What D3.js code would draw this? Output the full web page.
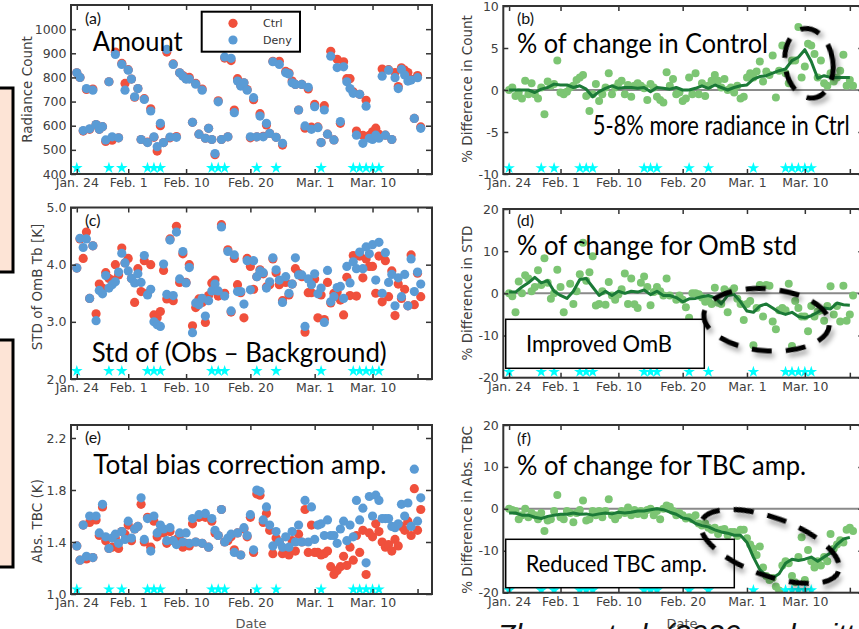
<!DOCTYPE html>
<html>
<head>
<meta charset="utf-8">
<script src="https://cdn.jsdelivr.net/npm/d3@7"></script>
<style>
  body { margin: 0; background: #fff; }
  svg { display: block; }
</style>
</head>
<body>
<svg id="fig" width="859" height="629"></svg>
<script>
// ---- data (day 0 = Jan. 24, two cycles per day) ----
const dateTicks = [0, 8, 17, 27, 37, 46, 53];
const dateLabels = ['Jan. 24', 'Feb. 1', 'Feb. 10', 'Feb. 20', 'Mar. 1', 'Mar. 10', ''];
const starDays = [0, 5, 7, 11, 12, 13, 21, 22, 23, 28, 31, 38, 43, 44, 45, 46, 47];

const countCtrl = [
  819, 800, 578, 750, 585, 752, 605, 585, 596, 535,
  782, 540, 905, 550, 858, 775, 832, 793, 718, 754,
  543, 712, 532, 670, 552, 495, 600, 530, 905, 550,
  856, 555, 819, 808, 795, 800, 614, 775, 565, 752,
  548, 589, 543, 480, 703, 543, 880, 554, 870, 665,
  795, 768, 778, 750, 550, 708, 554, 650, 556, 603,
  568, 867, 552, 867, 520, 825, 818, 785, 771, 665,
  771, 590, 752, 594, 688, 595, 530, 683, 565, 908,
  541, 875, 610, 865, 795, 795, 740, 578, 730, 560,
  705, 560, 575, 590, 565, 835, 561, 832, 543, 820,
  762, 840, 830, 820, 792, 630, 808, 595
];
const countDeny = [
  819, 800, 580, 754, 587, 747, 605, 585, 596, 541,
  782, 554, 895, 550, 854, 747, 830, 793, 720, 754,
  543, 709, 530, 661, 554, 513, 610, 530, 916, 553,
  854, 552, 819, 805, 793, 793, 614, 772, 565, 747,
  548, 589, 543, 485, 699, 543, 885, 554, 879, 654,
  785, 764, 778, 747, 554, 716, 554, 640, 554, 610,
  568, 865, 552, 854, 527, 819, 814, 778, 771, 665,
  771, 599, 759, 585, 679, 592, 530, 665, 565, 888,
  541, 841, 617, 844, 782, 754, 734, 561, 730, 527,
  681, 548, 543, 561, 548, 805, 561, 830, 543, 799,
  754, 833, 810, 785, 789, 630, 799, 589
];

const stdCtrl = [
  3.94, 4.45, 4.11, 4.57, 3.41, 4.33, 3.14, 3.66, 3.59, 3.86,
  3.76, 3.73, 4.00, 3.82, 4.29, 4.03, 4.11, 3.76, 3.34, 3.93,
  3.53, 4.07, 3.50, 4.00, 3.12, 3.07, 3.18, 3.90, 3.40, 4.45,
  3.37, 4.67, 3.69, 4.19, 3.69, 4.00, 2.93, 3.25, 3.40, 3.34,
  2.99, 3.46, 3.68, 3.73, 3.45, 4.70, 3.50, 4.26, 3.17, 4.11,
  3.65, 3.51, 3.07, 4.11, 3.97, 3.57, 3.79, 3.91, 3.84, 3.61,
  3.65, 4.10, 3.86, 3.65, 3.37, 3.69, 3.47, 3.66, 3.93, 3.85,
  3.79, 2.82, 3.51, 3.51, 3.75, 3.07, 3.47, 3.04, 3.69, 3.33,
  3.50, 3.52, 3.38, 3.12, 3.78, 3.46, 4.16, 3.45, 4.15, 3.77,
  4.10, 3.97, 3.97, 3.50, 4.15, 3.35, 4.07, 3.44, 3.89, 3.11,
  3.66, 3.41, 3.57, 3.28, 4.17, 3.30, 3.85, 3.44
];
const stdDeny = [
  3.94, 4.46, 4.30, 4.45, 3.41, 4.33, 3.02, 3.55, 3.49, 3.81,
  3.59, 3.65, 3.70, 3.87, 4.20, 4.03, 3.89, 3.76, 3.68, 3.84,
  3.69, 4.16, 3.47, 3.57, 3.00, 2.95, 2.92, 4.01, 3.48, 4.43,
  3.46, 4.57, 3.75, 4.23, 3.68, 3.95, 2.81, 3.33, 3.30, 3.41,
  3.10, 3.37, 3.54, 3.66, 3.54, 4.66, 3.45, 4.23, 3.19, 4.17,
  3.53, 3.53, 3.31, 4.07, 3.56, 4.07, 3.79, 3.89, 3.86, 3.59,
  3.70, 4.12, 3.91, 3.73, 3.34, 3.79, 3.50, 3.66, 4.12, 3.82,
  3.82, 2.92, 3.75, 3.65, 3.84, 3.49, 3.59, 2.99, 3.90, 3.35,
  3.44, 3.60, 3.62, 3.41, 3.97, 3.68, 4.05, 3.93, 4.22, 3.93,
  4.31, 4.19, 4.35, 3.73, 4.39, 3.50, 4.21, 3.69, 3.83, 3.28,
  3.77, 3.44, 3.83, 3.28, 4.10, 3.53, 3.87, 3.66
];

const tbcCtrl = [
  1.37, 1.26, 1.53, 1.27, 1.55, 1.28, 1.57, 1.45, 1.67, 1.41,
  1.35, 1.36, 1.43, 1.35, 1.48, 1.46, 1.53, 1.41, 1.50, 1.52,
  1.69, 1.40, 1.59, 1.36, 1.56, 1.44, 1.49, 1.47, 1.39, 1.48,
  1.41, 1.42, 1.45, 1.36, 1.39, 1.37, 1.54, 1.40, 1.59, 1.39,
  1.59, 1.36, 1.56, 1.47, 1.45, 1.65, 1.40, 1.41, 1.44, 1.34,
  1.47, 1.30, 1.50, 1.44, 1.59, 1.32, 1.77, 1.76, 1.55, 1.62,
  1.49, 1.31, 1.43, 1.40, 1.31, 1.34, 1.30, 1.41, 1.33, 1.46,
  1.40, 1.65, 1.32, 1.53, 1.32, 1.32, 1.30, 1.31, 1.33, 1.21,
  1.15, 1.18, 1.21, 1.29, 1.22, 1.36, 1.26, 1.45, 1.32, 1.49,
  1.15, 1.47, 1.44, 1.54, 1.48, 1.40, 1.36, 1.38, 1.33, 1.42,
  1.37, 1.52, 1.49, 1.56, 1.45, 1.81, 1.49, 1.65
];
const tbcDeny = [
  1.37, 1.26, 1.53, 1.29, 1.60, 1.28, 1.60, 1.47, 1.69, 1.44,
  1.35, 1.43, 1.46, 1.39, 1.48, 1.42, 1.56, 1.43, 1.50, 1.52,
  1.74, 1.42, 1.58, 1.33, 1.60, 1.47, 1.53, 1.50, 1.41, 1.51,
  1.41, 1.38, 1.47, 1.40, 1.47, 1.39, 1.58, 1.40, 1.61, 1.39,
  1.62, 1.36, 1.58, 1.49, 1.45, 1.65, 1.40, 1.43, 1.46, 1.32,
  1.47, 1.30, 1.51, 1.45, 1.61, 1.34, 1.80, 1.79, 1.57, 1.67,
  1.53, 1.37, 1.48, 1.40, 1.36, 1.44, 1.36, 1.48, 1.40, 1.53,
  1.40, 1.72, 1.40, 1.67, 1.42, 1.53, 1.54, 1.45, 1.57, 1.45,
  1.45, 1.39, 1.50, 1.56, 1.41, 1.53, 1.44, 1.72, 1.57, 1.66,
  1.24, 1.75, 1.60, 1.76, 1.72, 1.58, 1.58, 1.58, 1.52, 1.51,
  1.54, 1.69, 1.60, 1.70, 1.52, 1.96, 1.56, 1.74
];

// % differences (green dots), one per cycle
const diffCount = [
  0, 0.3, -0.7, -0.3, -1, 1.1, -0.5, 0.8, -0.5, -1,
  0.3, -2.9, 1, 0.5, 0.7, 3.5, -0.3, -0.5, -0.2, 0.3,
  0.5, 1.2, 1.5, 1.8, -0.7, -2.5, -0.5, 0.7, -1.3, -0.5,
  0.3, 2, -0.5, 0.3, 0.8, 1.1, -0.5, 0.6, -0.8, 0.5,
  0.8, 0.5, 0.2, -1.2, 0.7, 0.3, -0.8, -1.2, -1.5, 2.1,
  0.5, 1.3, -0.5, -0.3, -1.3, -1, 1.5, -0.5, 2, -0.5,
  0.8, -0.7, 0.5, 1.1, 1.8, 1.1, 0.3, 1.3, 0, 0.3,
  -0.3, 0.5, -1, -0.8, 1.5, 2, 1.5, 2.2, 3.4, 1,
  2.2, 1.8, 4.1, -0.9, 2.3, 5.3, 2, 0.8, 3.5, 3.5,
  7.5, 1.5, 2.8, 5.5, 5.3, 4.3, 1.5, 3.5, 0.8, 0.5,
  2, 1, 1.5, 2.3, 4.2, 0.5, 1.2, 0.5
];
const diffStd = [
  0, -0.7, -4.5, 2.8, 0, 4.3, 3.5, 0.5, 1.5, 5.5,
  2, 8.3, 2.5, -1.3, 0, 5.6, 1.5, -4.5, -9, 2.3,
  -2.5, 0.5, 4.5, 12, 3, 5, 8.8, -2.9, -2.5, 0.5,
  -2.7, 2.7, -0.5, -1.5, -0.3, 1, 4.7, -2.5, 3.5, -2.6,
  -3.5, 2.5, 4, 1.5, -2.8, 0.3, 1.5, 0.5, -0.5, 3.5,
  -0.5, -7.3, -1.5, -0.5, -1.5, -3.3, -5.8, 0, 0, -0.2,
  -1, -2, -1.5, -2.5, 1.3, -2.2, -2.5, 1, -4.5, 0.5,
  1.2, -1.3, -2.5, -6.3, -2.5, -1.8, -12.3, -3.5, 2, -5.5,
  2, 1.8, -6.7, -8.5, -4, -3.5, -4, 2.3, -12.5, -1.8,
  -3.5, -5.5, -5.5, -9, -3, -5.5, -4.3, -4, -6.5, -3,
  1.7, -5, -3, -6.7, 1.8, -6.5, -5, -0.5
];
const diffTbc = [
  0, -0.3, -0.5, -2.5, -1.5, 0, -2, -1, -1.5, -2.5,
  -1, -5.3, -2.8, -2.5, -0.5, 3.3, -2, -2.5, -0.5, -1,
  -3.2, -1, -0.3, 2, -2.8, -2.5, -0.5, -1.5, -0.5, -2,
  -0.5, 2.3, -1.5, -2.5, -1.5, -0.5, -1, 0.3, -1.5, -0.3,
  -1.2, -0.5, -1.5, -0.3, 0, -1.5, -0.5, -2.5, 0, 0.8,
  0.5, -0.5, -1.5, -1, -1.5, -2.3, -2, -2.5, -1.5, -3.5,
  -4, -3.5, -4.5, -5, -4.5, -6, -5, -4.8, -6.3, -5.5,
  -5.5, -6.5, -5, -5, -7, -8.5, -9.5, -11, -9, -14,
  -16, -17, -16.5, -18.5, -19.5, -13.5, -12.5, -13, -16, -17.5,
  -11.5, -6.8, -17, -9.8, -12.5, -14, -12.5, -13.5, -11.5, -12.5,
  -6, -9.5, -8.5, -7.5, -8, -5, -4.5, -5.3
];

// running-mean lines, one value per day
const meanCount = [
  0, 0, 0, 0, -0.3, 0.1, 0.3, 0.7, 0.6, 0.6,
  0.3, 0.5, 0.1, -0.8, -0.2, 0.2, 0.5, 0.2, 0.3, 0.3,
  0.2, 0.3, -0.2, 0.3, 0.2, 0.1, 0.3, 0, 0, 0.2,
  0.5, 0.2, 0.6, 0.3, 0, 0.3, 0.5, 0.6, 1.3, 1.6,
  1.7, 2.0, 2.3, 2.5, 3.5, 3.9, 4.8, 3.4, 1.4, 1.7,
  1.5, 1.5, 1.5, 1.5
];
const meanStd = [
  0.3, 0.3, 1.5, 2.5, 3.8, 2.5, 3, 0.5, -0.5, -1.2,
  0.5, 3.3, 3.5, 1.5, -0.5, 0.5, -0.5, 0.5, 0, 0.5,
  0.3, 0.8, -0.3, 0.5, -0.5, -0.5, -1, -2, -1.3, -1.2,
  -0.8, -0.5, -1, -2.5, -0.5, -0.3, -2, -4.2, -4.5, -3,
  -2.5, -3.5, -4.5, -5, -4.5, -5.5, -5.8, -5.3, -4.5, -3.5,
  -3.7, -2.3, -2.7, -2.8
];
const meanTbc = [
  -1, -1, -1.5, -1.5, -2, -2.3, -1.8, -1.5, -1.3, -1.3,
  -1, -1.3, -1.2, -1.5, -1.2, -1, -1.2, -0.8, -1, -0.8,
  -0.5, -0.5, -0.2, 0, -0.2, -0.8, -1.3, -2.2, -2.5, -3.5,
  -4, -4.3, -5, -5.5, -5.8, -6.3, -6.3, -8, -11.5, -14.5,
  -16, -16.5, -15.5, -13, -12, -12.3, -12, -11.5, -12.5, -11.5,
  -10.5, -8.5, -7.2, -6.8
];

// ---- drawing ----
const svg = d3.select('#fig');
const FONT = '"DejaVu Sans", sans-serif';
const BIG = 'Lato, "Open Sans", sans-serif';
const RED = '#f0503c', BLUE = '#5a9bd5', GREEN = '#7cc573', DKGREEN = '#1b7a37';

const defs = svg.append('defs');
defs.append('filter')
  .attr('id', 'shadow')
  .attr('x', '-30%').attr('y', '-30%').attr('width', '160%').attr('height', '160%')
  .append('feDropShadow')
  .attr('dx', 3).attr('dy', 4).attr('stdDeviation', 2.5)
  .attr('flood-color', '#000').attr('flood-opacity', 0.35);

const cycleDay = i => i / 2;
const mkX = r => d3.scaleLinear().domain([-0.9, 55.25]).range(r);
const xL = mkX([71, 432]);
const xR = mkX([503.3, 864.3]);
const asText = d => String(d);
const oneDec = d => d.toFixed(1);

const panels = {
  a: { x: xL, top: 5, bottom: 174, domain: [400, 1100], ticks: d3.range(400, 1001, 100), fmt: asText,
       star: 425, title: 'Radiance Count', titleX: 27, titleY: 89.5, ctrl: countCtrl, deny: countDeny },
  b: { x: xR, top: 6, bottom: 174, domain: [-10, 10], ticks: [-10, -5, 0, 5, 10], fmt: asText,
       star: -9.3, title: '% Difference in Count', titleX: 467.5, titleY: 89, diff: diffCount, mean: meanCount },
  c: { x: xL, top: 207.5, bottom: 379, domain: [2, 5], ticks: [2, 3, 4, 5], fmt: oneDec,
       star: 2.14, title: 'STD of OmB Tb [K]', titleX: 37.5, titleY: 287, ctrl: stdCtrl, deny: stdDeny },
  d: { x: xR, top: 209, bottom: 377.7, domain: [-20, 20], ticks: [-20, -10, 0, 10, 20], fmt: asText,
       star: -18.6, title: '% Difference in STD', titleX: 467.5, titleY: 293, diff: diffStd, mean: meanStd },
  e: { x: xL, top: 425, bottom: 594, domain: [1.0, 2.3], ticks: [1.0, 1.4, 1.8, 2.2], fmt: oneDec,
       star: 1.036, title: 'Abs. TBC (K)', titleX: 37.5, titleY: 521, ctrl: tbcCtrl, deny: tbcDeny },
  f: { x: xR, top: 425, bottom: 592.7, domain: [-20, 20], ticks: [-20, -10, 0, 10, 20], fmt: asText,
       star: -19.4, title: '% Difference in Abs. TBC', titleX: 467.5, titleY: 510, diff: diffTbc, mean: meanTbc }
};

// peach side boxes at the left edge
svg.selectAll('rect.side')
  .data([[88, 272], [340, 567]])
  .join('rect')
  .attr('class', 'side')
  .attr('x', -10).attr('width', 23)
  .attr('y', d => d[0]).attr('height', d => d[1] - d[0])
  .attr('fill', '#fde4d6').attr('stroke', '#000').attr('stroke-width', 3);

const styleAxis = g => {
  g.select('.domain').remove();
  g.selectAll('line').attr('stroke', '#333').attr('stroke-width', 1.5);
  g.selectAll('text')
    .attr('font-family', FONT)
    .attr('font-size', 12.5)
    .attr('fill', '#404040');
};

Object.entries(panels).forEach(([key, p]) => {
  const x = p.x;
  const y = d3.scaleLinear().domain(p.domain).range([p.bottom, p.top]);
  p.y = y;
  const [x0, x1] = x.range();
  const g = svg.append('g').attr('class', 'panel-' + key);

  defs.append('clipPath')
    .attr('id', 'clip-' + key)
    .append('rect')
    .attr('x', x0).attr('y', p.top)
    .attr('width', x1 - x0).attr('height', p.bottom - p.top);

  g.append('rect')
    .attr('x', x0).attr('y', p.top)
    .attr('width', x1 - x0).attr('height', p.bottom - p.top)
    .attr('fill', '#fff');

  const layer = g.append('g').attr('clip-path', `url(#clip-${key})`);

  if (p.diff) {
    layer.append('line')
      .attr('x1', x0).attr('x2', x1)
      .attr('y1', y(0)).attr('y2', y(0))
      .attr('stroke', '#8a8a8a').attr('stroke-width', 2);

    layer.append('g')
      .selectAll('circle')
      .data(p.diff)
      .join('circle')
      .attr('cx', (d, i) => x(cycleDay(i)))
      .attr('cy', d => y(d))
      .attr('r', 4)
      .attr('fill', GREEN);

    layer.append('path')
      .datum(p.mean)
      .attr('d', d3.line((d, i) => x(i), d => y(d)))
      .attr('fill', 'none')
      .attr('stroke', DKGREEN)
      .attr('stroke-width', 3)
      .attr('stroke-linejoin', 'round');
  } else {
    [[p.ctrl, RED], [p.deny, BLUE]].forEach(([vals, col]) =>
      layer.append('g')
        .selectAll('circle')
        .data(vals)
        .join('circle')
        .attr('cx', (d, i) => x(cycleDay(i)))
        .attr('cy', d => y(d))
        .attr('r', 4.6)
        .attr('fill', col)
    );
  }

  layer.append('g')
    .selectAll('path')
    .data(starDays)
    .join('path')
    .attr('d', d3.symbol(d3.symbolStar, 42))
    .attr('transform', d => `translate(${x(d)},${y(p.star)})`)
    .attr('fill', '#00ffff');

  // axes, MATLAB style: inward ticks on all four sides
  g.append('g')
    .attr('transform', `translate(0,${p.bottom})`)
    .call(d3.axisBottom(x).tickValues(dateTicks).tickFormat((d, i) => dateLabels[i]).tickSize(-5).tickPadding(4))
    .call(styleAxis);
  g.append('g')
    .attr('transform', `translate(0,${p.top})`)
    .call(d3.axisTop(x).tickValues(dateTicks).tickFormat(() => '').tickSize(-5))
    .call(styleAxis);
  g.append('g')
    .attr('transform', `translate(${x0},0)`)
    .call(d3.axisLeft(y).tickValues(p.ticks).tickFormat(p.fmt).tickSize(-5).tickPadding(4.5))
    .call(styleAxis);
  g.append('g')
    .attr('transform', `translate(${x1},0)`)
    .call(d3.axisRight(y).tickValues(p.ticks).tickFormat(() => '').tickSize(-6))
    .call(styleAxis);

  g.append('rect')
    .attr('x', x0).attr('y', p.top)
    .attr('width', x1 - x0).attr('height', p.bottom - p.top)
    .attr('fill', 'none')
    .attr('stroke', '#333')
    .attr('stroke-width', 2);

  g.append('text')
    .attr('transform', `translate(${p.titleX},${p.titleY}) rotate(-90)`)
    .attr('text-anchor', 'middle')
    .attr('dy', '0.35em')
    .attr('font-family', FONT)
    .attr('font-size', 13.5)
    .attr('fill', '#404040')
    .text(p.title);
});

// legend in (a)
const leg = svg.append('g').attr('transform', 'translate(201.7,11.7)');
leg.append('rect')
  .attr('width', 98.3).attr('height', 40)
  .attr('fill', '#fff').attr('stroke', '#000').attr('stroke-width', 2);
[['Ctrl', RED], ['Deny', BLUE]].forEach(([name, col], i) => {
  leg.append('circle').attr('cx', 31.3).attr('cy', 11.6 + i * 16.7).attr('r', 4.6).attr('fill', col);
  leg.append('text')
    .attr('x', 61.3).attr('y', 11.6 + i * 16.7)
    .attr('dy', '0.35em')
    .attr('font-family', FONT).attr('font-size', 11).attr('fill', '#333')
    .text(name);
});

// panel letters
const letters = [
  ['(a)', 85, 24], ['(b)', 517, 24], ['(c)', 85, 226],
  ['(d)', 517, 226], ['(e)', 85, 443], ['(f)', 517, 444]
];
svg.append('g')
  .selectAll('text')
  .data(letters)
  .join('text')
  .attr('x', d => d[1]).attr('y', d => d[2])
  .attr('font-family', BIG).attr('font-size', 16).attr('fill', '#111')
  .text(d => d[0]);

// white note boxes
const notes = [
  { box: [505.7, 319.3, 198.6, 49], text: 'Improved OmB', cx: 599, y: 351.7, len: 146 },
  { box: [505.7, 539.3, 228.6, 48.4], text: 'Reduced TBC amp.', cx: 616.3, y: 571.7, len: 181 }
];
notes.forEach(n => {
  svg.append('rect')
    .attr('x', n.box[0]).attr('y', n.box[1])
    .attr('width', n.box[2]).attr('height', n.box[3])
    .attr('fill', '#fff').attr('stroke', '#000').attr('stroke-width', 1.5);
  svg.append('text')
    .attr('x', n.cx - n.len / 2).attr('y', n.y)
    .attr('textLength', n.len).attr('lengthAdjust', 'spacingAndGlyphs')
    .attr('font-family', BIG).attr('font-size', 24).attr('fill', '#000')
    .text(n.text);
});

// large annotations
const captions = [
  ['Amount', 92.7, 50.7, 90],
  ['% of change in Control', 517, 53.3, 251],
  ['5-8% more radiance in Ctrl', 592.7, 135, 257],
  ['Std of (Obs \u2013 Background)', 91.7, 362, 295],
  ['% of change for OmB std', 517, 255, 280],
  ['Total bias correction amp.', 93.3, 474, 293],
  ['% of change for TBC amp.', 517, 475, 289]
];
svg.append('g')
  .selectAll('text')
  .data(captions)
  .join('text')
  .attr('x', d => d[1]).attr('y', d => d[2])
  .attr('textLength', d => d[3]).attr('lengthAdjust', 'spacingAndGlyphs')
  .attr('font-family', BIG).attr('font-size', 26).attr('fill', '#000')
  .text(d => d[0]);

// dashed rings (centres in data units)
const rings = [
  { key: 'b', day: 46.64, value: 3.18, rx: 24, ry: 35, rot: -8 },
  { key: 'd', day: 40.06, value: -6.26, rx: 63, ry: 31, rot: 5 },
  { key: 'f', day: 40.58, value: -8.99, rx: 73, ry: 29, rot: 20 }
];
rings.forEach(r => {
  const p = panels[r.key];
  svg.append('ellipse')
    .attr('transform', `translate(${p.x(r.day)},${p.y(r.value)}) rotate(${r.rot})`)
    .attr('rx', r.rx).attr('ry', r.ry)
    .attr('fill', 'none')
    .attr('stroke', '#000')
    .attr('stroke-width', 5)
    .attr('stroke-dasharray', '20 14')
    .attr('filter', 'url(#shadow)');
});

// x-axis titles and citation
[[251, 'Date'], [682, 'Date']].forEach(([cx, t]) =>
  svg.append('text')
    .attr('x', cx).attr('y', 628)
    .attr('text-anchor', 'middle')
    .attr('font-family', FONT).attr('font-size', 13).attr('fill', '#555')
    .text(t)
);
svg.append('text')
  .attr('x', 497).attr('y', 645)
  .attr('font-family', '"Liberation Sans", sans-serif')
  .attr('font-style', 'italic')
  .attr('font-size', 30)
  .attr('fill', '#111')
  .text('Zhang et al. (2020, submitted)');
</script>
</body>
</html>
